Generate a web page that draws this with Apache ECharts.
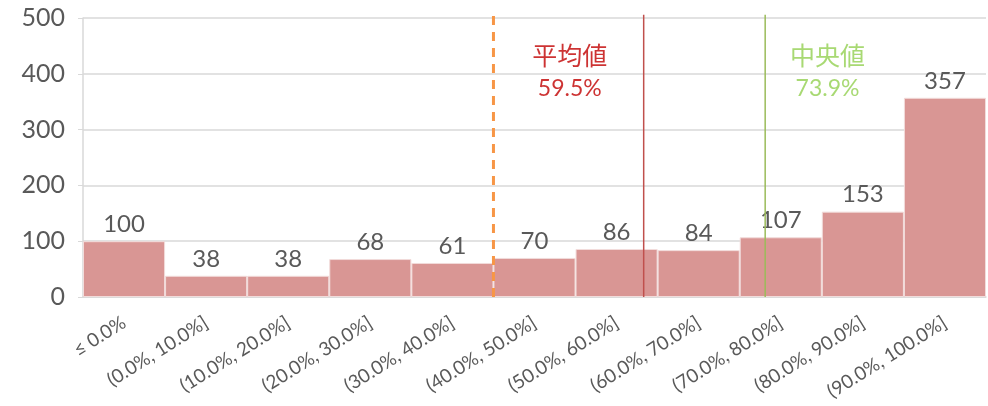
<!DOCTYPE html>
<html><head><meta charset="utf-8">
<script src="https://cdn.jsdelivr.net/npm/echarts@6/dist/echarts.min.js"></script>
<style>html,body{margin:0;padding:0;background:#fff}#c{width:988px;height:406px}</style>
</head><body><div id="c"></div>
<script>
const categories = ['≤ 0.0%','(0.0%, 10.0%]','(10.0%, 20.0%]','(20.0%, 30.0%]','(30.0%, 40.0%]','(40.0%, 50.0%]','(50.0%, 60.0%]','(60.0%, 70.0%]','(70.0%, 80.0%]','(80.0%, 90.0%]','(90.0%, 100.0%]'];
const counts = [100,38,38,68,61,70,86,84,107,153,357];
const yTicks = [0,100,200,300,400,500];
// reference lines positioned in category units along the axis
const thresholdPos = 5.0;
const meanPos = 6.83;
const medianPos = 8.31;
const meanLabel = ['平均値','59.5%'];
const medianLabel = ['中央値','73.9%'];

const FONT = 'Lato, "Noto Sans", sans-serif';
const chart = echarts.init(document.getElementById('c'));
function vline(x, color, width, type){
  return {type:'line', xAxisIndex:1, yAxisIndex:0, data:[[x,0],[x,506]], symbol:'none', clip:false,
    lineStyle:{color, width, type}, silent:true, z:5};
}
function note(x, lines, color){
  return {type:'scatter', xAxisIndex:1, yAxisIndex:0, symbolSize:0, silent:true, z:6,
    data:[{value:[x,432], label:{show:true, formatter:lines[0], fontSize:25, color, fontFamily:'"Noto Sans CJK JP", sans-serif'}},
          {value:[x,373], label:{show:true, formatter:lines[1], fontSize:23, color, fontFamily:FONT}}],
    label:{show:true, position:'inside'}};
}
chart.setOption({
  animation:false,
  grid:{left:83, right:2, top:18, bottom:109, containLabel:false},
  xAxis:[{type:'category', data:categories,
    axisLine:{show:true, lineStyle:{color:'#D9D9D9', width:1.5}}, axisTick:{show:false},
    axisLabel:{rotate:32, fontSize:19, color:'#595959', fontFamily:FONT, margin:24, interval:0}},
   {type:'value', min:0, max:categories.length, show:false}],
  yAxis:{type:'value', min:yTicks[0], max:yTicks[yTicks.length-1], interval:100,
    axisLine:{show:true, lineStyle:{color:'#D9D9D9', width:1.5}},
    splitLine:{lineStyle:{color:'#D9D9D9', width:1.5}},
    axisLabel:{fontSize:25, color:'#595959', fontFamily:FONT, margin:18}},
  series:[
    {type:'bar', data:counts, barCategoryGap:'0%', itemStyle:{color:'#D99694', borderColor:'#F2DCDB', borderWidth:1},
     label:{show:true, position:'top', distance:5, fontSize:24, color:'#595959', fontFamily:FONT}},
    vline(thresholdPos, '#F79646', 3, [9,7]),
    vline(meanPos, '#C0504D', 1.5, 'solid'),
    vline(medianPos, '#9BBB59', 1.5, 'solid'),
    note(5.93, meanLabel, '#C00000'),
    note(9.07, medianLabel, '#92D050')
  ]
});
</script></body></html>
